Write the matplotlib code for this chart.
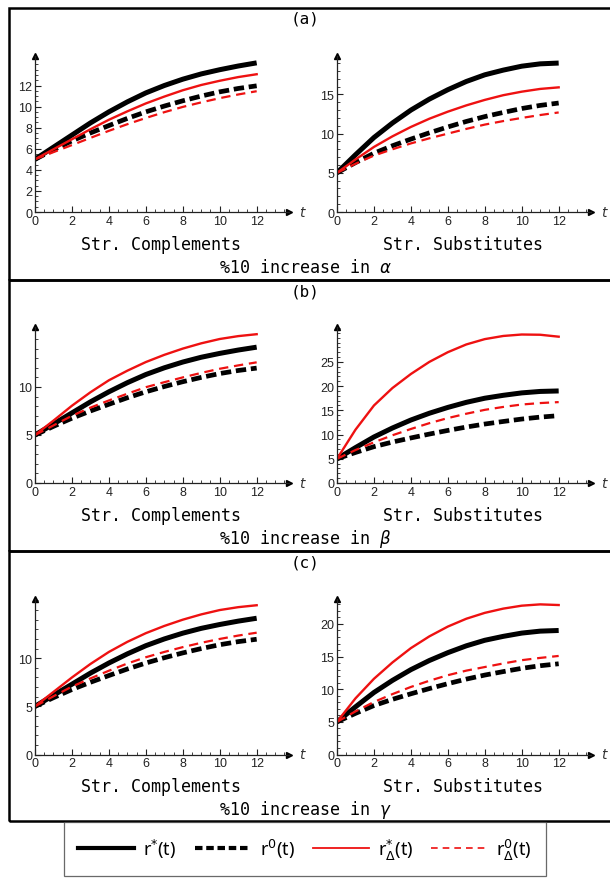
import matplotlib
matplotlib.use("Agg")
import matplotlib.pyplot as plt
from matplotlib.patches import Rectangle
from matplotlib.lines import Line2D
from matplotlib.ticker import FixedLocator, MultipleLocator

t = [0, 1, 2, 3, 4, 5, 6, 7, 8, 9, 10, 11, 12]

# baseline paths, same in every row
comp_star = [5, 6.15, 7.3, 8.45, 9.5, 10.45, 11.3, 12.0, 12.6, 13.1, 13.5, 13.85, 14.15]
comp_zero = [5, 5.9, 6.75, 7.5, 8.2, 8.88, 9.5, 10.05, 10.55, 11.0, 11.4, 11.72, 11.97]
subs_star = [5, 7.3, 9.5, 11.35, 13.0, 14.4, 15.6, 16.65, 17.5, 18.1, 18.6, 18.9, 19.0]
subs_zero = [5, 6.3, 7.5, 8.45, 9.3, 10.1, 10.85, 11.55, 12.17, 12.7, 13.2, 13.6, 13.9]

# paths after the 10% increase
a_comp_star_d = [5, 5.95, 6.9, 7.85, 8.75, 9.55, 10.3, 10.95, 11.55, 12.05, 12.45, 12.8, 13.07]
a_comp_zero_d = [5, 5.68, 6.35, 7.03, 7.7, 8.33, 8.92, 9.47, 9.97, 10.4, 10.8, 11.15, 11.46]
a_subs_star_d = [5, 6.7, 8.3, 9.65, 10.85, 11.9, 12.8, 13.6, 14.3, 14.9, 15.35, 15.7, 15.9]
a_subs_zero_d = [5, 6.15, 7.2, 8.0, 8.75, 9.4, 10.0, 10.6, 11.15, 11.6, 12.0, 12.37, 12.7]
b_comp_star_d = [5, 6.5, 8.05, 9.45, 10.7, 11.7, 12.6, 13.35, 14.0, 14.55, 15.0, 15.3, 15.5]
b_comp_zero_d = [5, 6.0, 7.0, 7.85, 8.6, 9.3, 9.98, 10.5, 11.0, 11.47, 11.9, 12.25, 12.57]
b_subs_star_d = [5, 11.0, 16.0, 19.6, 22.5, 25.0, 27.0, 28.6, 29.7, 30.35, 30.65, 30.6, 30.2]
b_subs_zero_d = [5, 6.8, 8.4, 9.85, 11.15, 12.35, 13.4, 14.3, 15.1, 15.7, 16.2, 16.5, 16.7]
c_comp_star_d = [5, 6.5, 8.0, 9.4, 10.65, 11.7, 12.6, 13.35, 14.0, 14.55, 15.0, 15.3, 15.5]
c_comp_zero_d = [5, 6.05, 7.05, 7.9, 8.7, 9.45, 10.1, 10.65, 11.15, 11.6, 12.0, 12.35, 12.65]
c_subs_star_d = [5, 8.6, 11.6, 14.1, 16.3, 18.1, 19.6, 20.8, 21.7, 22.35, 22.8, 23.0, 22.9]
c_subs_zero_d = [5, 6.6, 8.05, 9.25, 10.35, 11.3, 12.15, 12.85, 13.4, 13.95, 14.45, 14.8, 15.1]

row_tags = ["(a)", "(b)", "(c)"]
row_params = [r"$\alpha$", r"$\beta$", r"$\gamma$"]
col_titles = ["Str. Complements", "Str. Substitutes"]
x_ticks = [0, 2, 4, 6, 8, 10, 12]

W, H = 610, 879
fig = plt.figure(figsize=(6.1, 8.79), dpi=100)


def fx(px):
    return px / W


def fy(py):
    return 1 - py / H


def draw_panel(ax, star, zero, star_d, zero_d, ytop, yticks, yminor):
    ax.plot(t, star, color="black", lw=3.6, solid_capstyle="butt")
    ax.plot(t, zero, color="black", lw=3.4, dashes=(2.2, 1.0))
    ax.plot(t, star_d, color="#ee1111", lw=1.7)
    ax.plot(t, zero_d, color="#ee1111", lw=1.6, dashes=(4.2, 2.6))
    ax.set_xlim(0, 13.75)
    ax.set_ylim(0, ytop)
    for s in ["top", "right"]:
        ax.spines[s].set_visible(False)
    for s in ["left", "bottom"]:
        ax.spines[s].set_linewidth(0.9)
        ax.spines[s].set_color("#222222")
    ax.xaxis.set_major_locator(FixedLocator(x_ticks))
    ax.xaxis.set_minor_locator(MultipleLocator(0.5))
    ax.yaxis.set_major_locator(FixedLocator(yticks))
    ax.yaxis.set_minor_locator(MultipleLocator(yminor))
    ax.tick_params(which="major", direction="in", length=4, width=0.8,
                   labelsize=9, pad=2, colors="#222222")
    ax.tick_params(which="minor", direction="in", length=2, width=0.6,
                   colors="#222222")
    for lab in ax.get_xticklabels() + ax.get_yticklabels():
        lab.set_family("Liberation Sans")
    ax.plot(1, 0, ">", color="black", ms=5, transform=ax.transAxes, clip_on=False)
    ax.plot(0, 1, "^", color="black", ms=5, transform=ax.transAxes, clip_on=False)
    ax.text(1.04, 0, "t", transform=ax.transAxes, va="center", ha="left",
            fontsize=10, style="italic", color="#333333", family="DejaVu Sans")


panels = [
    [(comp_star, comp_zero, a_comp_star_d, a_comp_zero_d, 14.8, [0, 2, 4, 6, 8, 10, 12], 0.5),
     (subs_star, subs_zero, a_subs_star_d, a_subs_zero_d, 19.9, [0, 5, 10, 15], 1)],
    [(comp_star, comp_zero, b_comp_star_d, b_comp_zero_d, 16.25, [0, 5, 10], 1),
     (subs_star, subs_zero, b_subs_star_d, b_subs_zero_d, 32.2, [0, 5, 10, 15, 20, 25], 1)],
    [(comp_star, comp_zero, c_comp_star_d, c_comp_zero_d, 16.2, [0, 5, 10], 1),
     (subs_star, subs_zero, c_subs_star_d, c_subs_zero_d, 23.9, [0, 5, 10, 15, 20], 1)],
]

origins_y = [213, 484, 755.5]
origins_x = [35, 337]
box_y = [8.5, 281, 552, 822]
ax_w, ax_h = 254, 156

for r in range(3):
    y0 = origins_y[r]
    for c in range(2):
        x0 = origins_x[c]
        ax = fig.add_axes([fx(x0), fy(y0), fx(ax_w), ax_h / H])
        draw_panel(ax, *panels[r][c])
        fig.text(fx(x0 + 126), fy(y0 + 32), col_titles[c], ha="center", va="center",
                 fontsize=12, family="DejaVu Sans Mono")
    fig.text(fx(305), fy(box_y[r] + 11), row_tags[r], ha="center", va="center",
             fontsize=11.5, family="DejaVu Sans Mono")
    fig.text(fx(305), fy(y0 + 55), "%10 increase in " + row_params[r], ha="center",
             va="center", fontsize=12, family="DejaVu Sans Mono")
    fig.patches.append(Rectangle((fx(8.5), fy(box_y[r + 1])), fx(610),
                                 (box_y[r + 1] - box_y[r]) / H, fill=False,
                                 lw=1.8, edgecolor="black", transform=fig.transFigure))

handles = [
    Line2D([], [], color="black", lw=3.0),
    Line2D([], [], color="black", lw=3.0, dashes=(1.8, 0.9)),
    Line2D([], [], color="#ee1111", lw=1.3),
    Line2D([], [], color="#ee1111", lw=1.2, dashes=(4, 3)),
]
labels = [r"r$^{*}$(t)", r"r$^{0}$(t)", r"r$^{*}_{\Delta}$(t)", r"r$^{0}_{\Delta}$(t)"]
leg = fig.legend(handles, labels, loc="center", bbox_to_anchor=(fx(305), fy(850)),
                 ncol=4, frameon=True, fancybox=False, edgecolor="#444444",
                 handlelength=3.1, handletextpad=0.5, columnspacing=1.0,
                 borderpad=0.8, prop={"family": "Noto Sans", "size": 13})
leg.get_frame().set_linewidth(0.9)

fig.savefig("out.png", dpi=100)
